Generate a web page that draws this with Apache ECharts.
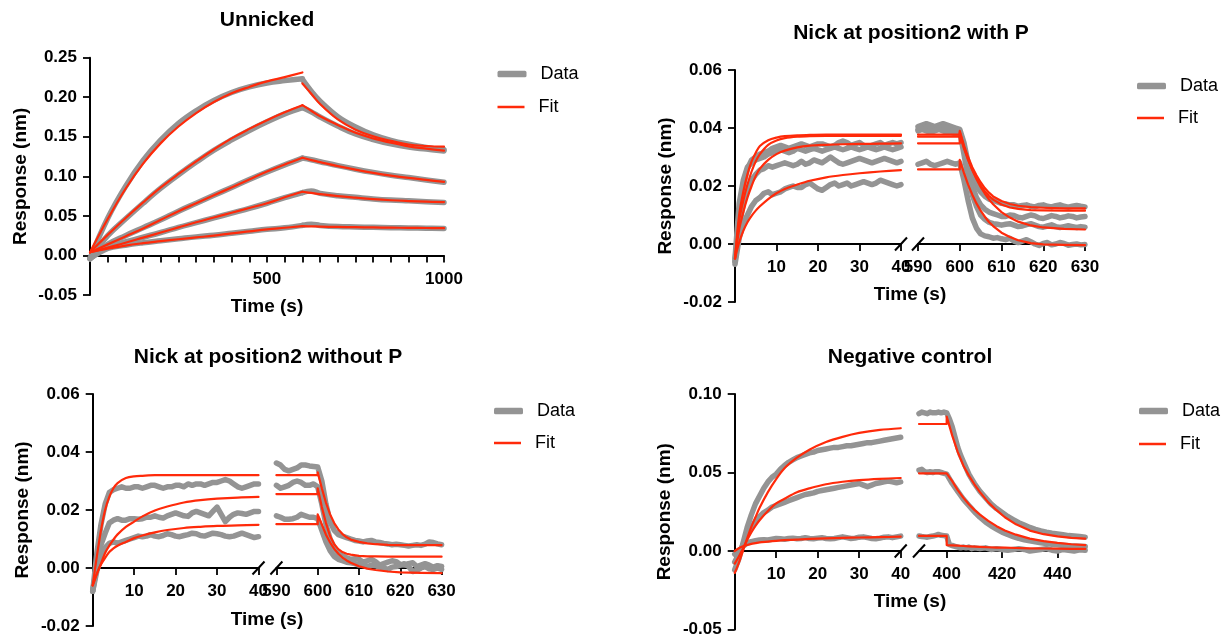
<!DOCTYPE html>
<html>
<head>
<meta charset="utf-8">
<script src="https://cdn.jsdelivr.net/npm/echarts@6/dist/echarts.min.js"></script>
<style>
  html, body { margin: 0; padding: 0; background: #fff; }
  #chart { width: 1226px; height: 637px; }
</style>
</head>
<body>
<div id="chart"></div>
<script>
// ---- Unnicked (single axis, 0-1000 s) ----
const U_T = [0, 50, 100, 150, 200, 250, 300, 350, 400, 450, 500, 550, 600,
             600, 625, 650, 700, 750, 800, 850, 900, 950, 1000];
const U_FIT1 = [0.004, 0.046, 0.084, 0.116, 0.142, 0.163, 0.180, 0.194, 0.205, 0.213, 0.220, 0.2255, 0.2313,
                0.2175, 0.2045, 0.1914, 0.1719, 0.159, 0.1507, 0.1449, 0.1403, 0.1384, 0.1375];
const U_DAT1 = [-0.004, 0.047, 0.087, 0.120, 0.146, 0.167, 0.183, 0.196, 0.206, 0.213, 0.218, 0.221, 0.2235,
                0.2225, 0.2075, 0.195, 0.1755, 0.1625, 0.1525, 0.1455, 0.1405, 0.1365, 0.1335];
const U_FIT2 = [0.004, 0.026, 0.047, 0.067, 0.086, 0.103, 0.119, 0.134, 0.148, 0.160, 0.171, 0.181, 0.190,
                0.190, 0.183, 0.176, 0.165, 0.155, 0.148, 0.1425, 0.138, 0.135, 0.1325];
const U_DAT2 = [-0.004, 0.025, 0.046, 0.066, 0.085, 0.102, 0.118, 0.133, 0.146, 0.158, 0.169, 0.179, 0.187,
                0.187, 0.1815, 0.175, 0.1635, 0.1535, 0.1465, 0.141, 0.137, 0.1345, 0.132];
const U_FIT3 = [0.004, 0.014, 0.024, 0.034, 0.045, 0.056, 0.066, 0.076, 0.086, 0.096, 0.106, 0.115, 0.1235,
                0.1235, 0.1205, 0.118, 0.113, 0.1085, 0.1045, 0.101, 0.098, 0.0955, 0.093];
const U_DAT3 = [-0.004, 0.014, 0.025, 0.035, 0.045, 0.056, 0.066, 0.076, 0.086, 0.096, 0.1055, 0.1145, 0.123,
                0.123, 0.121, 0.1185, 0.1135, 0.109, 0.105, 0.1015, 0.0985, 0.0955, 0.0925];
const U_FIT4 = [0.004, 0.010, 0.016, 0.0225, 0.029, 0.0355, 0.042, 0.048, 0.054, 0.060, 0.066, 0.0735, 0.0805,
                0.0805, 0.079, 0.0775, 0.075, 0.073, 0.0712, 0.0698, 0.0688, 0.068, 0.0675];
const U_DAT4 = [-0.004, 0.011, 0.017, 0.023, 0.029, 0.0355, 0.0415, 0.0475, 0.0535, 0.0595, 0.066, 0.073, 0.0795,
                0.0795, 0.0815, 0.0785, 0.0755, 0.0735, 0.0715, 0.070, 0.069, 0.068, 0.067];
const U_FIT5 = [0.004, 0.0085, 0.0125, 0.0155, 0.018, 0.0205, 0.0228, 0.025, 0.028, 0.0305, 0.033, 0.035, 0.037,
                0.037, 0.0368, 0.0365, 0.036, 0.0357, 0.0354, 0.0351, 0.0349, 0.0347, 0.0345];
const U_DAT5 = [-0.004, 0.009, 0.013, 0.016, 0.0185, 0.021, 0.0235, 0.0255, 0.028, 0.0305, 0.033, 0.035, 0.038,
                0.038, 0.0395, 0.038, 0.0365, 0.036, 0.0355, 0.035, 0.0348, 0.0345, 0.034];

// ---- shared time stamps for the broken-axis panels ----
const T_FIT_L = [0, 1, 2, 3, 4, 5, 6, 8, 10, 12, 15, 18, 22, 26, 30, 35, 40];
const T_DAT_L = [0, 1, 2, 3, 4, 5, 6, 7, 8, 9, 10, 11, 12, 13, 14, 15, 16, 17, 18, 19, 20,
                 21, 22, 23, 24, 25, 26, 27, 28, 29, 30, 31, 32, 33, 34, 35, 36, 37, 38, 39, 40];
const T_FIT_R = [590, 600, 600, 601, 602, 603, 604, 605, 606, 607, 608, 610, 612, 614, 617, 620, 625, 630];
const T_DAT_R = [590, 591, 592, 593, 594, 595, 596, 597, 598, 599, 600, 601, 602, 603, 604, 605, 606, 607, 608, 609, 610,
                 611, 612, 613, 614, 615, 616, 617, 618, 619, 620, 621, 622, 623, 624, 625, 626, 627, 628, 629, 630];

// ---- Nick at position2 with P ----
const P2_FIT_L1 = [-0.005, 0.010, 0.018, 0.024, 0.0285, 0.0315, 0.0338, 0.0358, 0.0367, 0.0372, 0.0375, 0.0376, 0.0377, 0.0377, 0.0377, 0.0377, 0.0377];
const P2_FIT_L2 = [-0.005, 0.008, 0.015, 0.0205, 0.025, 0.0285, 0.031, 0.0342, 0.0357, 0.0365, 0.037, 0.0372, 0.0373, 0.0373, 0.0373, 0.0373, 0.0373];
const P2_FIT_L3 = [-0.005, 0.005, 0.011, 0.016, 0.020, 0.0235, 0.026, 0.029, 0.031, 0.0322, 0.0333, 0.0339, 0.0342, 0.0344, 0.0345, 0.0346, 0.0347];
const P2_FIT_L4 = [-0.005, 0.0005, 0.0045, 0.0075, 0.0097, 0.0115, 0.013, 0.0155, 0.0175, 0.019, 0.0205, 0.0218, 0.023, 0.0238, 0.0244, 0.025, 0.0255];
const P2_FIT_R1 = [0.0377, 0.0377, 0.039, 0.034, 0.030, 0.0265, 0.0237, 0.0213, 0.0193, 0.0177, 0.0164, 0.0148, 0.0138, 0.0132, 0.0127, 0.0125, 0.0123, 0.0123];
const P2_FIT_R2 = [0.037, 0.037, 0.0385, 0.0335, 0.0292, 0.0257, 0.0227, 0.0202, 0.0182, 0.0166, 0.0153, 0.0136, 0.0126, 0.0121, 0.0117, 0.0116, 0.0115, 0.0115];
const P2_FIT_R3 = [0.0347, 0.0347, 0.0375, 0.033, 0.029, 0.0255, 0.0224, 0.0197, 0.0174, 0.0154, 0.0137, 0.011, 0.0091, 0.0077, 0.0064, 0.0057, 0.0052, 0.005];
const P2_FIT_R4 = [0.0257, 0.0257, 0.029, 0.0245, 0.0205, 0.017, 0.014, 0.0115, 0.0094, 0.0076, 0.0062, 0.0039, 0.0024, 0.0013, 0.0003, -0.0001, -0.0003, -0.0004];
const P2_DAT_L1 = [-0.006, 0.010, 0.020, 0.026, 0.029, 0.030, 0.031, 0.0315, 0.032, 0.033,
  0.0335, 0.034, 0.0335, 0.033, 0.0335, 0.034, 0.0345, 0.034, 0.0335, 0.034,
  0.0345, 0.0345, 0.034, 0.0335, 0.034, 0.035, 0.0355, 0.035, 0.034, 0.0345,
  0.035, 0.034, 0.0335, 0.034, 0.0345, 0.035, 0.034, 0.0345, 0.035, 0.0345, 0.035];
const P2_DAT_L2 = [-0.005, 0.014, 0.022, 0.0265, 0.028, 0.029, 0.0295, 0.030, 0.031, 0.0315,
  0.032, 0.0325, 0.032, 0.0315, 0.032, 0.033, 0.0325, 0.032, 0.0325, 0.033,
  0.0325, 0.032, 0.0325, 0.033, 0.0335, 0.033, 0.0325, 0.033, 0.0335, 0.033,
  0.0325, 0.033, 0.0335, 0.033, 0.0325, 0.033, 0.0335, 0.033, 0.0325, 0.033, 0.0335];
const P2_DAT_L3 = [-0.006, 0.006, 0.014, 0.019, 0.022, 0.024, 0.0255, 0.026, 0.027, 0.0265,
  0.027, 0.0275, 0.028, 0.0275, 0.027, 0.0275, 0.0285, 0.0275, 0.028, 0.029,
  0.0285, 0.028, 0.029, 0.030, 0.029, 0.028, 0.0275, 0.028, 0.0285, 0.029,
  0.0295, 0.029, 0.0285, 0.028, 0.0285, 0.029, 0.0295, 0.029, 0.0285, 0.028, 0.0285];
const P2_DAT_L4 = [-0.007, 0.002, 0.007, 0.010, 0.013, 0.015, 0.016, 0.0175, 0.018, 0.017,
  0.0175, 0.018, 0.019, 0.0195, 0.020, 0.0195, 0.0195, 0.0205, 0.021, 0.020,
  0.019, 0.0185, 0.0195, 0.0205, 0.021, 0.020, 0.0205, 0.021, 0.020, 0.0205,
  0.021, 0.0215, 0.021, 0.0205, 0.021, 0.022, 0.0215, 0.021, 0.0205, 0.020, 0.0205];
const P2_DAT_R1 = [0.0405, 0.041, 0.0415, 0.041, 0.0405, 0.041, 0.0415, 0.041, 0.0405, 0.040, 0.0395,
  0.035, 0.028, 0.023, 0.020, 0.018, 0.0165, 0.0155, 0.015, 0.0145, 0.014,
  0.0138, 0.0135, 0.0135, 0.013, 0.0133, 0.0135, 0.013, 0.0128, 0.0133, 0.0135,
  0.013, 0.0128, 0.0132, 0.0135, 0.013, 0.0127, 0.013, 0.0133, 0.013, 0.0128];
const P2_DAT_R2 = [0.0395, 0.040, 0.0405, 0.040, 0.0395, 0.040, 0.0405, 0.040, 0.0385, 0.038, 0.0385,
  0.033, 0.026, 0.020, 0.016, 0.0135, 0.012, 0.011, 0.0105, 0.010, 0.0095,
  0.0095, 0.010, 0.0098, 0.0092, 0.009, 0.0095, 0.010, 0.0097, 0.009, 0.0088,
  0.0093, 0.0098, 0.0095, 0.009, 0.0093, 0.0097, 0.0095, 0.009, 0.0093, 0.0095];
const P2_DAT_R3 = [0.039, 0.0395, 0.039, 0.0385, 0.039, 0.0395, 0.039, 0.0385, 0.039, 0.0395, 0.039,
  0.031, 0.023, 0.017, 0.013, 0.010, 0.0085, 0.0075, 0.007, 0.0068, 0.0065,
  0.0068, 0.007, 0.0065, 0.006, 0.0062, 0.0067, 0.007, 0.0065, 0.006, 0.0058,
  0.0062, 0.0066, 0.006, 0.0057, 0.006, 0.0063, 0.006, 0.0057, 0.006, 0.0058];
const P2_DAT_R4 = [0.0275, 0.028, 0.0285, 0.0275, 0.027, 0.0275, 0.028, 0.0285, 0.028, 0.0275, 0.028,
  0.022, 0.015, 0.009, 0.0055, 0.0035, 0.0028, 0.0025, 0.002, 0.0022, 0.0018,
  0.0015, 0.002, 0.001, 0.0005, 0.001, 0.0015, 0.0008, 0.0, -0.0005, 0.0002,
  0.0005, -0.0003, 0.0, 0.0005, 0.0002, -0.0004, -0.0002, 0.0, -0.0003, -0.0002];

// ---- Nick at position2 without P ----
const P3_FIT_L1 = [-0.006, 0.004, 0.013, 0.020, 0.0245, 0.0275, 0.0293, 0.031, 0.0316, 0.0318, 0.032, 0.032, 0.032, 0.032, 0.032, 0.032, 0.032];
const P3_FIT_L2 = [-0.006, -0.002, 0.0015, 0.0052, 0.0077, 0.0098, 0.0116, 0.0142, 0.016, 0.0178, 0.0198, 0.0212, 0.0226, 0.0234, 0.0239, 0.0243, 0.0245];
const P3_FIT_L3 = [-0.006, -0.002, 0.0012, 0.0035, 0.0055, 0.0068, 0.0077, 0.009, 0.0103, 0.0112, 0.0123, 0.0131, 0.0138, 0.0142, 0.0145, 0.0147, 0.0149];
const P3_FIT_R1 = [0.032, 0.032, 0.033, 0.0275, 0.0225, 0.0185, 0.0155, 0.0133, 0.0117, 0.0106, 0.0098, 0.009, 0.0085, 0.0082, 0.008, 0.0079, 0.0079, 0.0079];
const P3_FIT_R2 = [0.0255, 0.0255, 0.0275, 0.021, 0.0155, 0.011, 0.0082, 0.0065, 0.0055, 0.0049, 0.0046, 0.0042, 0.004, 0.004, 0.0039, 0.0039, 0.0039, 0.0039];
const P3_FIT_R3 = [0.0151, 0.0151, 0.0185, 0.015, 0.0115, 0.0088, 0.0066, 0.0049, 0.0036, 0.0026, 0.0018, 0.0006, -0.0002, -0.0007, -0.0012, -0.0015, -0.0017, -0.0018];
const P3_DAT_L1 = [-0.008, 0.005, 0.015, 0.022, 0.026, 0.027, 0.0275, 0.028, 0.0275, 0.0275,
  0.028, 0.028, 0.0275, 0.028, 0.0285, 0.0285, 0.028, 0.0275, 0.028, 0.028,
  0.0285, 0.0285, 0.028, 0.029, 0.0285, 0.029, 0.029, 0.0285, 0.029, 0.0295,
  0.0295, 0.030, 0.0305, 0.030, 0.029, 0.028, 0.0275, 0.028, 0.0285, 0.029, 0.029];
const P3_DAT_L2 = [-0.008, 0.001, 0.008, 0.012, 0.0155, 0.0165, 0.017, 0.0165, 0.0165, 0.017,
  0.017, 0.0168, 0.017, 0.0175, 0.0175, 0.018, 0.0175, 0.0172, 0.018, 0.0185,
  0.019, 0.0185, 0.018, 0.0178, 0.019, 0.0195, 0.019, 0.0185, 0.018, 0.0195,
  0.021, 0.0185, 0.016, 0.0175, 0.0185, 0.019, 0.0188, 0.0185, 0.019, 0.0195, 0.0195];
const P3_DAT_L3 = [-0.008, -0.001, 0.004, 0.007, 0.0085, 0.009, 0.0085, 0.009, 0.0095, 0.010,
  0.0105, 0.011, 0.0108, 0.011, 0.0115, 0.011, 0.0108, 0.0112, 0.0118, 0.0115,
  0.011, 0.0108, 0.0112, 0.0115, 0.012, 0.0118, 0.0112, 0.011, 0.0115, 0.012,
  0.0118, 0.0115, 0.011, 0.0108, 0.011, 0.0115, 0.012, 0.0115, 0.011, 0.0105, 0.0108];
const P3_DAT_R1 = [0.0362, 0.0355, 0.034, 0.0335, 0.034, 0.0345, 0.0355, 0.0355, 0.0352, 0.035, 0.0348,
  0.030, 0.022, 0.016, 0.013, 0.0115, 0.011, 0.0105, 0.010, 0.0095, 0.0093,
  0.009, 0.0093, 0.0095, 0.009, 0.0088, 0.0085, 0.0083, 0.008, 0.0082, 0.008,
  0.0078, 0.0076, 0.0078, 0.008, 0.0078, 0.0082, 0.009, 0.0088, 0.0083, 0.008];
const P3_DAT_R2 = [0.0285, 0.0275, 0.028, 0.0285, 0.0295, 0.030, 0.0295, 0.0285, 0.0285, 0.029, 0.028,
  0.022, 0.015, 0.010, 0.007, 0.005, 0.0042, 0.0035, 0.003, 0.0032, 0.003,
  0.002, 0.0025, 0.003, 0.0022, 0.001, 0.0015, 0.002, 0.0025, 0.0022, 0.0012,
  0.001, 0.0015, 0.0018, 0.0005, 0.001, 0.0015, 0.001, 0.0003, 0.0008, 0.0005];
const P3_DAT_R3 = [0.018, 0.0175, 0.0168, 0.0168, 0.017, 0.0175, 0.0185, 0.018, 0.0175, 0.0175, 0.017,
  0.013, 0.009, 0.006, 0.004, 0.003, 0.0025, 0.002, 0.0018, 0.0015, 0.001,
  0.0015, 0.0005, 0.001, 0.0008, 0.0003, 0.0, -0.0005, 0.0003, 0.0005, 0.001,
  0.0015, 0.0005, -0.0012, -0.0008, 0.0, 0.0005, -0.0003, -0.0005, 0.0, -0.0005];

// ---- Negative control ----
const NC_T_FIT_R = [390, 400, 400, 402, 404, 406, 408, 410, 412, 415, 418, 421, 425, 430, 435, 440, 445, 450];
const NC_T_DAT_R = [390, 391, 392, 393, 394, 395, 396, 397, 398, 399, 400, 401, 402, 403, 404, 405, 406, 407, 408, 409, 410,
                    412, 414, 416, 418, 420, 422, 424, 426, 428, 430, 432, 434, 436, 438, 440, 442, 444, 446, 448, 450];
const NC_FIT_L1 = [-0.014, -0.0075, 0.0002, 0.008, 0.0153, 0.0215, 0.0275, 0.0375, 0.0458, 0.0527, 0.0594, 0.0645, 0.0694, 0.0727, 0.0752, 0.0771, 0.0782];
const NC_FIT_L2 = [-0.008, -0.0035, 0.0016, 0.007, 0.0118, 0.016, 0.0196, 0.0255, 0.0303, 0.0333, 0.0374, 0.0399, 0.0425, 0.0441, 0.0452, 0.046, 0.0465];
const NC_FIT_L3 = [0.0, 0.0018, 0.003, 0.0038, 0.0045, 0.005, 0.0055, 0.006, 0.0065, 0.0069, 0.0073, 0.0077, 0.008, 0.0083, 0.0086, 0.0088, 0.0091];
const NC_FIT_R1 = [0.0809, 0.0809, 0.0856, 0.0735, 0.063, 0.0545, 0.048, 0.0425, 0.0375, 0.031, 0.026, 0.0215, 0.017, 0.013, 0.0107, 0.0093, 0.0084, 0.0079];
const NC_FIT_R2 = [0.0495, 0.0495, 0.0495, 0.0445, 0.0388, 0.034, 0.0298, 0.0262, 0.0232, 0.0192, 0.0158, 0.013, 0.0104, 0.0079, 0.0063, 0.0052, 0.0043, 0.0037];
const NC_FIT_R3 = [0.0096, 0.0096, 0.0038, 0.0036, 0.0034, 0.0032, 0.003, 0.0028, 0.0026, 0.0024, 0.0022, 0.0021, 0.0019, 0.0017, 0.0016, 0.0015, 0.0014, 0.0013];
const NC_DAT_L1 = [-0.012, -0.005, 0.005, 0.015, 0.023, 0.030, 0.035, 0.040, 0.044, 0.047,
  0.049, 0.052, 0.0545, 0.0565, 0.058, 0.0595, 0.0605, 0.0615, 0.0625, 0.063,
  0.064, 0.0645, 0.065, 0.0655, 0.066, 0.066, 0.0665, 0.067, 0.067, 0.0675,
  0.068, 0.0685, 0.069, 0.069, 0.0695, 0.070, 0.0705, 0.071, 0.0715, 0.072, 0.0725];
const NC_DAT_L2 = [-0.007, -0.002, 0.004, 0.010, 0.015, 0.019, 0.022, 0.0245, 0.026, 0.028,
  0.029, 0.030, 0.031, 0.032, 0.033, 0.034, 0.035, 0.036, 0.0365, 0.037,
  0.038, 0.0385, 0.039, 0.0395, 0.040, 0.0405, 0.041, 0.0415, 0.042, 0.0425,
  0.043, 0.042, 0.041, 0.042, 0.043, 0.0435, 0.044, 0.0445, 0.044, 0.0435, 0.044];
const NC_DAT_L3 = [-0.002, 0.0, 0.003, 0.005, 0.006, 0.0065, 0.007, 0.0072, 0.007, 0.0075,
  0.008, 0.0078, 0.0075, 0.008, 0.0082, 0.0078, 0.008, 0.0085, 0.008, 0.0078,
  0.0082, 0.0085, 0.008, 0.0078, 0.008, 0.0085, 0.009, 0.0085, 0.008, 0.0082,
  0.0088, 0.009, 0.0085, 0.008, 0.0078, 0.0082, 0.0088, 0.009, 0.0085, 0.009, 0.0095];
const NC_DAT_R1 = [0.0875, 0.0885, 0.088, 0.0875, 0.0885, 0.088, 0.088, 0.0885, 0.088, 0.0885, 0.088,
  0.084, 0.079, 0.0725, 0.066, 0.061, 0.057, 0.053, 0.049, 0.046, 0.043,
  0.038, 0.034, 0.030, 0.027, 0.0245, 0.022, 0.020, 0.018, 0.0165, 0.015,
  0.0138, 0.0128, 0.012, 0.0113, 0.0108, 0.0103, 0.0098, 0.0095, 0.0092, 0.0088];
const NC_DAT_R2 = [0.0515, 0.052, 0.0505, 0.050, 0.0505, 0.050, 0.0505, 0.0505, 0.050, 0.0495, 0.049,
  0.046, 0.043, 0.0405, 0.038, 0.0355, 0.033, 0.031, 0.029, 0.027, 0.025,
  0.0215, 0.0185, 0.016, 0.014, 0.012, 0.0105, 0.0092, 0.008, 0.0072, 0.0065,
  0.0058, 0.0052, 0.0047, 0.0043, 0.004, 0.0037, 0.0034, 0.0032, 0.003, 0.0028];
const NC_DAT_R3 = [0.0095, 0.0092, 0.009, 0.0088, 0.0092, 0.0095, 0.010, 0.0105, 0.010, 0.0098, 0.0095,
  0.004, 0.0035, 0.003, 0.0025, 0.002, 0.0025, 0.002, 0.0025, 0.0015, 0.002,
  0.0015, 0.002, 0.001, 0.0015, 0.001, 0.0005, 0.001, 0.0015, 0.001, 0.0,
  0.0005, 0.001, 0.0015, 0.0005, 0.0, 0.001, 0.0005, 0.0, 0.0008, 0.0005];

// ---- styling ----
const FONT = "'Liberation Sans', Arial, sans-serif";
const INK = '#000';
const GRAY = '#949494';
const RED = '#ff2a0a';

const chart = echarts.init(document.getElementById('chart'));

// one grid per axis segment (index = xAxis = yAxis index)
const grids = [
  { left: 90, top: 57.7, width: 354, height: 237.3 },     // Unnicked
  { left: 735, top: 70, width: 166, height: 232 },        // with P, 0-40
  { left: 918, top: 70, width: 167, height: 232 },        // with P, 590-630
  { left: 92.7, top: 394, width: 165.8, height: 232 },    // without P, 0-40
  { left: 276.4, top: 394, width: 165.2, height: 232 },   // without P, 590-630
  { left: 734.7, top: 394, width: 166, height: 235.5 },   // negative, 0-40
  { left: 919, top: 394, width: 166.2, height: 235.5 }    // negative, 390-450
].map(g => Object.assign({ containLabel: false, outerBoundsMode: 'none' }, g));
// y range of each grid (same order)
const yRange = [[-0.05, 0.25], [-0.02, 0.06], [-0.02, 0.06], [-0.02, 0.06], [-0.02, 0.06], [-0.05, 0.10], [-0.05, 0.10]];

const tickStyle = { color: INK, width: 1.8 };
const labelStyle = { fontFamily: FONT, fontSize: 17, fontWeight: 'bold', color: INK };
const nameStyle = { fontFamily: FONT, fontSize: 19, fontWeight: 'bold', color: INK };

// x axis drawn at y = 0: shift it up from the grid bottom by the distance to zero
function xAx(gi, min, max, extra) {
  const [lo, hi] = yRange[gi];
  return Object.assign({
    type: 'value', gridIndex: gi, min, max,
    offset: -grids[gi].height * (0 - lo) / (hi - lo),
    axisLine: { show: true, onZero: false, lineStyle: { color: INK, width: 2 } },
    axisTick: { show: true, length: 7, lineStyle: tickStyle },
    axisLabel: Object.assign({ margin: 15, hideOverlap: false, formatter: v => (v === 0 ? '' : String(v)) }, labelStyle),
    splitLine: { show: false }
  }, extra || {});
}

function yAx(gi, step) {
  const [min, max] = yRange[gi];
  return {
    type: 'value', gridIndex: gi, min, max, interval: step,
    axisLine: { show: true, onZero: false, lineStyle: { color: INK, width: 2 } },
    axisTick: { show: true, length: 7, lineStyle: tickStyle },
    axisLabel: Object.assign({ margin: 13, formatter: v => (Math.abs(v) < 1e-9 ? 0 : v).toFixed(2) }, labelStyle),
    splitLine: { show: false },
    name: 'Response (nm)', nameLocation: 'middle', nameGap: 60, nameRotate: 90,
    nameTextStyle: nameStyle
  };
}

function hiddenY(gi) {
  const [min, max] = yRange[gi];
  return { type: 'value', gridIndex: gi, min, max, show: false };
}

const ncTicks = [400, 420, 440];
const xAxes = [
  xAx(0, 0, 1000, {
    interval: 500,
    minorTick: { show: true, splitNumber: 10, length: 7, lineStyle: tickStyle },
    name: 'Time (s)', nameLocation: 'middle', nameGap: 42, nameTextStyle: nameStyle
  }),
  xAx(1, 0, 40, { interval: 10 }),
  xAx(2, 590, 630, { interval: 10 }),
  xAx(3, 0, 40, { interval: 10 }),
  xAx(4, 590, 630, { interval: 10 }),
  xAx(5, 0, 40, { interval: 10 }),
  xAx(6, 390, 450, {
    axisTick: { show: true, length: 7, lineStyle: tickStyle, customValues: ncTicks },
    axisLabel: Object.assign({ margin: 15, hideOverlap: false, customValues: ncTicks }, labelStyle)
  })
];
const yAxes = [
  yAx(0, 0.05),
  yAx(1, 0.02), hiddenY(2),
  yAx(3, 0.02), hiddenY(4),
  yAx(5, 0.05), hiddenY(6)
];

function line(name, gi, ts, vs, smooth) {
  const isData = name === 'Data';
  return {
    type: 'line', name, xAxisIndex: gi, yAxisIndex: gi,
    data: ts.map((t, i) => [t, vs[i]]),
    symbol: 'none', showSymbol: false, smooth: smooth || false,
    lineStyle: { color: isData ? GRAY : RED, width: isData ? 5.5 : 2.2, cap: 'round', join: 'round' },
    itemStyle: { color: isData ? GRAY : RED },
    z: isData ? 2 : 3, silent: true, emphasis: { disabled: true }
  };
}

const series = [];
// Unnicked: association (first 13 points) and dissociation (rest) drawn as separate pieces
[U_DAT1, U_DAT2, U_DAT3, U_DAT4, U_DAT5].forEach(d => {
  series.push(line('Data', 0, U_T.slice(0, 13), d.slice(0, 13), 0.4));
  series.push(line('Data', 0, U_T.slice(13), d.slice(13), 0.4));
});
[U_FIT1, U_FIT2, U_FIT3, U_FIT4, U_FIT5].forEach(f => {
  series.push(line('Fit', 0, U_T.slice(0, 13), f.slice(0, 13), 0.4));
  series.push(line('Fit', 0, U_T.slice(13), f.slice(13), 0.4));
});

function brokenPanel(gL, gR, tFitR, tDatR, datL, datR, fitL, fitR) {
  datL.forEach(d => series.push(line('Data', gL, T_DAT_L, d)));
  datR.forEach(d => series.push(line('Data', gR, tDatR, d)));
  fitL.forEach(f => series.push(line('Fit', gL, T_FIT_L, f, 0.3)));
  fitR.forEach(f => series.push(line('Fit', gR, tFitR, f)));
}
brokenPanel(1, 2, T_FIT_R, T_DAT_R,
  [P2_DAT_L1, P2_DAT_L2, P2_DAT_L3, P2_DAT_L4], [P2_DAT_R1, P2_DAT_R2, P2_DAT_R3, P2_DAT_R4],
  [P2_FIT_L1, P2_FIT_L2, P2_FIT_L3, P2_FIT_L4], [P2_FIT_R1, P2_FIT_R2, P2_FIT_R3, P2_FIT_R4]);
brokenPanel(3, 4, T_FIT_R, T_DAT_R,
  [P3_DAT_L1, P3_DAT_L2, P3_DAT_L3], [P3_DAT_R1, P3_DAT_R2, P3_DAT_R3],
  [P3_FIT_L1, P3_FIT_L2, P3_FIT_L3], [P3_FIT_R1, P3_FIT_R2, P3_FIT_R3]);
brokenPanel(5, 6, NC_T_FIT_R, NC_T_DAT_R,
  [NC_DAT_L1, NC_DAT_L2, NC_DAT_L3], [NC_DAT_R1, NC_DAT_R2, NC_DAT_R3],
  [NC_FIT_L1, NC_FIT_L2, NC_FIT_L3], [NC_FIT_R1, NC_FIT_R2, NC_FIT_R3]);

// two legends per panel so the Data swatch can be thick and the Fit swatch thin
function legendPair(left, yData, yFit) {
  const base = {
    left, padding: 0, selectedMode: false, orient: 'vertical',
    textStyle: { fontFamily: FONT, fontSize: 18, color: INK, padding: [0, 0, 0, 9] }
  };
  return [
    Object.assign({}, base, {
      top: yData - 9, itemWidth: 29, itemHeight: 6.5,
      data: [{ name: 'Data', icon: 'roundRect', itemStyle: { color: GRAY, borderWidth: 0 } }]
    }),
    Object.assign({}, base, {
      top: yFit - 9, itemWidth: 27, itemHeight: 2.5,
      data: [{ name: 'Fit', icon: 'rect', itemStyle: { color: RED, borderWidth: 0 } }]
    })
  ];
}
const legends = [].concat(
  legendPair(497.5, 74, 107),
  legendPair(1137, 86, 118),
  legendPair(494, 411, 443),
  legendPair(1139, 411, 444)
);

function label(text, x, y, size) {
  return {
    type: 'text', x, y, silent: true,
    style: { text, fill: INK, font: 'bold ' + size + 'px ' + FONT, textAlign: 'center', textVerticalAlign: 'middle' }
  };
}
const texts = [
  label('Unnicked', 267, 20, 21),
  label('Nick at position2 with P', 911, 33, 21),
  label('Nick at position2 without P', 268, 357, 21),
  label('Negative control', 910, 357, 21),
  label('Time (s)', 910, 295, 19),
  label('Time (s)', 267, 620, 19),
  label('Time (s)', 910, 602, 19)
];

chart.setOption({
  animation: false,
  backgroundColor: '#fff',
  grid: grids,
  xAxis: xAxes,
  yAxis: yAxes,
  legend: legends,
  series,
  graphic: texts
});

// break marks "//" at the ends of each split axis
const breaks = [[1, 40, 2, 590], [3, 40, 4, 590], [5, 40, 6, 390]];
const slashes = [];
breaks.forEach(([gL, xL, gR, xR]) => {
  [chart.convertToPixel({ gridIndex: gL }, [xL, 0]), chart.convertToPixel({ gridIndex: gR }, [xR, 0])].forEach(p => {
    slashes.push({
      type: 'line', silent: true,
      shape: { x1: p[0] - 6, y1: p[1] + 6.5, x2: p[0] + 6, y2: p[1] - 6.5 },
      style: { stroke: INK, lineWidth: 2 }
    });
  });
});
chart.setOption({ graphic: texts.concat(slashes) });
</script>
</body>
</html>
